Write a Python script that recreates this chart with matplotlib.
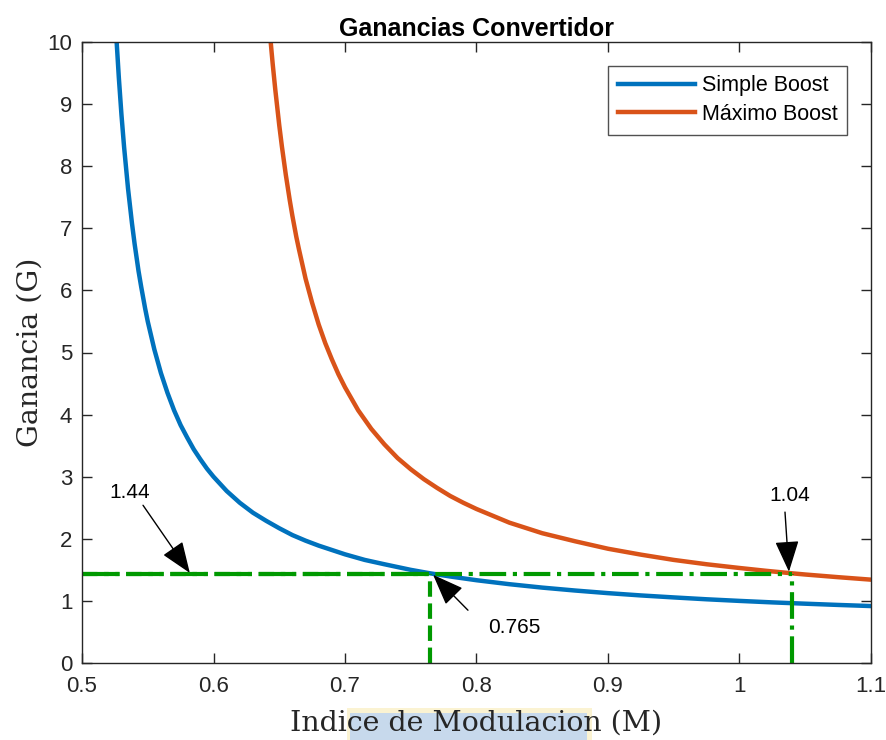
import matplotlib
matplotlib.use('Agg')
import matplotlib.pyplot as plt
from matplotlib.patches import Rectangle

# Simple Boost curve
m_simple = [0.526, 0.528, 0.53, 0.532, 0.535, 0.538, 0.54, 0.543, 0.545, 0.548,
            0.55, 0.555, 0.56, 0.565, 0.57, 0.575, 0.58, 0.585, 0.59, 0.595,
            0.60, 0.61, 0.62, 0.63, 0.64, 0.65, 0.66, 0.67, 0.68, 0.69, 0.70,
            0.715, 0.73, 0.75, 0.765, 0.78, 0.80, 0.825, 0.85, 0.875, 0.90,
            0.925, 0.95, 0.975, 1.00, 1.025, 1.05, 1.075, 1.10]
g_simple = [10.12, 9.43, 8.83, 8.31, 7.64, 7.08, 6.75, 6.31, 6.06, 5.71,
            5.50, 5.05, 4.67, 4.35, 4.07, 3.83, 3.63, 3.44, 3.28, 3.13,
            3.00, 2.77, 2.58, 2.42, 2.29, 2.17, 2.06, 1.97, 1.89, 1.82, 1.75,
            1.66, 1.59, 1.50, 1.443, 1.393, 1.333, 1.269, 1.214, 1.167, 1.125,
            1.088, 1.056, 1.026, 1.00, 0.976, 0.955, 0.935, 0.917]

# Maximo Boost curve
m_max = [0.643, 0.644, 0.645, 0.647, 0.65, 0.652, 0.655, 0.658, 0.66, 0.663,
         0.665, 0.67, 0.675, 0.68, 0.685, 0.69, 0.695, 0.70, 0.71, 0.72,
         0.73, 0.74, 0.75, 0.76, 0.77, 0.78, 0.79, 0.80, 0.825, 0.85, 0.875,
         0.90, 0.925, 0.95, 0.975, 1.00, 1.02, 1.04, 1.05, 1.075, 1.10]
g_max = [10.12, 9.88, 9.65, 9.23, 8.66, 8.32, 7.86, 7.45, 7.20, 6.86,
         6.66, 6.19, 5.80, 5.45, 5.15, 4.89, 4.65, 4.44, 4.07, 3.77,
         3.52, 3.30, 3.12, 2.96, 2.82, 2.69, 2.58, 2.48, 2.26, 2.09, 1.96,
         1.84, 1.745, 1.66, 1.59, 1.53, 1.485, 1.444, 1.425, 1.382, 1.342]

# operating points
g_op = 1.44
m_simple_op = 0.765
m_max_op = 1.04

xticks = [0.5, 0.6, 0.7, 0.8, 0.9, 1.0, 1.1]
xticklabels = ['0.5', '0.6', '0.7', '0.8', '0.9', '1', '1.1']
yticks = list(range(0, 11))

blue = '#0072BD'
orange = '#D95319'
green = '#009900'
axcol = '#262626'

fig = plt.figure(figsize=(8.86, 7.4), dpi=100)
ax = fig.add_axes([82/886, 1 - 663/740, 789/886, 621/740])

# highlight behind part of the x label (as in the source image)
fig.patches.append(Rectangle((347/886, 0), 245/886, 32/740, transform=fig.transFigure,
                             facecolor='#FBF3D2', edgecolor='none', zorder=-1))
fig.patches.append(Rectangle((350/886, 0), 237/886, 27/740, transform=fig.transFigure,
                             facecolor='#C7D9EC', edgecolor='none', zorder=-1))

ax.plot(m_simple, g_simple, color=blue, lw=3.2, label='Simple Boost')
ax.plot(m_max, g_max, color=orange, lw=3.2, label='Máximo Boost')

ax.plot([0.5, m_simple_op], [g_op, g_op], '--', color=green, lw=3)
ax.plot([m_simple_op, m_simple_op], [0, g_op], '--', color=green, lw=3)
ax.plot([0.5, m_max_op], [g_op, g_op], '-.', color=green, lw=3)
ax.plot([m_max_op, m_max_op], [0, g_op], '-.', color=green, lw=3)

aprops = dict(arrowstyle='-|>,head_length=1.3,head_width=0.5', color='black',
              lw=1, mutation_scale=15, shrinkA=0, shrinkB=0)
tfont = dict(ha='center', va='center', fontsize=15, family='Liberation Sans')
ax.annotate('', xy=(0.582, 1.45), xytext=(0.5464, 2.54), arrowprops=aprops)
ax.text(0.5365, 2.74, '1.44', **tfont)
ax.annotate('', xy=(0.767, 1.42), xytext=(0.7935, 0.85), arrowprops=aprops)
ax.text(0.829, 0.57, '0.765', **tfont)
ax.annotate('', xy=(1.0376, 1.47), xytext=(1.0346, 2.43), arrowprops=aprops)
ax.text(1.038, 2.7, '1.04', **tfont)

ax.set_xlim(0.5, 1.1)
ax.set_ylim(0, 10)
ax.set_xticks(xticks)
ax.set_xticklabels(xticklabels)
ax.set_yticks(yticks)
ax.tick_params(direction='in', top=True, right=True, length=7, width=1,
               colors=axcol, labelsize=16)
ax.tick_params(axis='x', pad=9)
ax.tick_params(axis='y', pad=7)
for lab in ax.get_xticklabels() + ax.get_yticklabels():
    lab.set_family('Liberation Sans')
for s in ax.spines.values():
    s.set_color(axcol)
    s.set_linewidth(1)

ax.set_title('Ganancias Convertidor', fontsize=18, fontweight='bold',
             family='Liberation Sans', pad=4)
ax.set_xlabel('Indice de Modulacion (M)', fontsize=20.5, family='DejaVu Serif',
              color=axcol)
ax.xaxis.label.set_va('baseline')
ax.xaxis.set_label_coords(0.5, (663 - 731) / 621)
ax.set_ylabel('Ganancia (G)', fontsize=20.5, family='DejaVu Serif', color=axcol)
ax.yaxis.label.set_va('baseline')
ax.yaxis.set_label_coords((38 - 82) / 789, 0.5)

leg = ax.legend(loc='upper right', frameon=True, fancybox=False,
                edgecolor=axcol, handlelength=3.6, handletextpad=0.3,
                borderpad=0.45, labelspacing=0.35, borderaxespad=1.1,
                prop={'family': 'Liberation Sans', 'size': 15.5})
leg.get_frame().set_linewidth(1)

fig.savefig('out.png', dpi=100)
